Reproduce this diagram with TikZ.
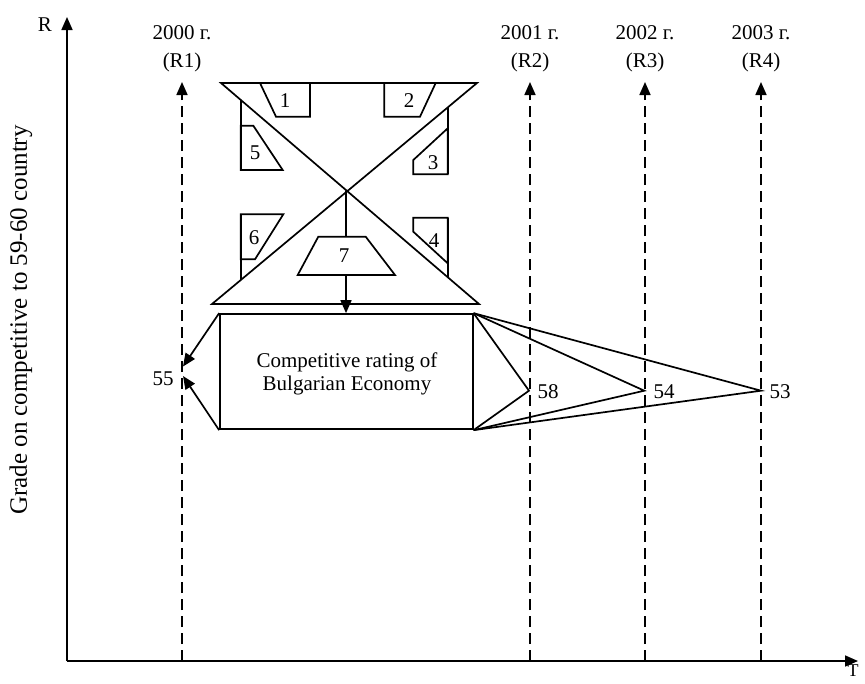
\documentclass[tikz,border=0pt]{standalone}
\usepackage{fontspec}
\setmainfont{Liberation Serif}
\usetikzlibrary{arrows.meta}
\begin{document}
\begin{tikzpicture}[x=1pt,y=-1pt,
  line/.style={line width=1.7pt, line join=miter},
  tip/.style={-{Triangle[length=13pt,width=11pt]}},
  dashv/.style={line width=1.7pt, dash pattern=on 11pt off 6pt},
  lbl/.style={font=\fontsize{21}{23}\selectfont, inner sep=0pt},
  yearlbl/.style={font=\fontsize{21}{28}\selectfont, inner sep=0pt, align=center},
  ]
\useasboundingbox (0,0) rectangle (865,683);

% axes
\coordinate (O) at (67,661);
\coordinate (Ry) at (67,17);
\coordinate (Tx) at (858,661);
\draw[line, tip] (O) -- (Ry);
\draw[line, tip] (O) -- (Tx);
\node[lbl] (R) at (45,25) {R};
\node[lbl, font=\fontsize{18}{20}\selectfont, anchor=north] (T) at (853,665) {T};
\node[lbl, rotate=90, font=\fontsize{25}{27}\selectfont] (ylab) at (21,320) {Grade on competitive to 59-60 country};

% dashed year lines
\foreach \n/\x in {1/182,2/530,3/645,4/761}{
  \coordinate (b\n) at (\x,661);
  \coordinate (t\n) at (\x,82);
  \draw[dashv, tip] (b\n) -- (t\n);
}
\node[yearlbl] (y1) at (182,49) {2000 г.\\(R1)};
\node[yearlbl] (y2) at (530,49) {2001 г.\\(R2)};
\node[yearlbl] (y3) at (645,49) {2002 г.\\(R3)};
\node[yearlbl] (y4) at (761,49) {2003 г.\\(R4)};

% hourglass
\coordinate (TL) at (221,83);
\coordinate (TR) at (477,83);
\coordinate (BL) at (212,304);
\coordinate (BR) at (479,304);
\coordinate (X) at (346,191);
\draw[line] (TL) -- (TR) -- (BL) -- (BR) -- cycle;

% shape 1
\draw[line] (260,83) -- (310,83) -- (310,116.7) -- (276,116.7) -- cycle;
\node[lbl] (s1) at (285,101) {1};
% shape 2
\draw[line] (384.3,83) -- (435.7,83) -- (420,116.7) -- (384.3,116.7) -- cycle;
\node[lbl] (s2) at (409,101) {2};
% left upper bar and shape 5
\coordinate (lu) at (240.7,99.9);
\coordinate (ld) at (240.7,170);
\draw[line] (lu) -- (ld);
\draw[line] (240.7,125.7) -- (253.3,125.7) -- (282.7,170) -- (240.7,170) -- cycle;
\node[lbl] (s5) at (255,153) {5};
% right upper bar and shape 3
\coordinate (ru) at (447.7,107.4);
\coordinate (rd) at (447.7,174.3);
\draw[line] (ru) -- (rd);
\draw[line] (447.7,128.3) -- (413.3,160) -- (413.3,174.3) -- (447.7,174.3) -- cycle;
\node[lbl] (s3) at (433,163) {3};
% shape 6 and left lower bar
\coordinate (l6u) at (240.7,214.3);
\coordinate (l6d) at (240.7,280.1);
\draw[line] (l6u) -- (l6d);
\draw[line] (240.7,214.3) -- (283.3,214.3) -- (255,259.3) -- (240.7,259.3) -- cycle;
\node[lbl] (s6) at (254,238) {6};
% shape 4 and right lower bar
\coordinate (r4u) at (447.7,217.7);
\coordinate (r4d) at (447.7,277.3);
\draw[line] (r4u) -- (r4d);
\draw[line] (413.3,217.7) -- (447.7,217.7) -- (447.7,263.3) -- (413.3,231.7) -- cycle;
\node[lbl] (s4) at (434,241) {4};
% shape 7
\coordinate (s7t) at (346,236.7);
\coordinate (s7b) at (346,275);
\draw[line] (318.3,236.7) -- (365.7,236.7) -- (395,275) -- (297.7,275) -- cycle;
\node[lbl] (s7) at (344,256) {7};
\draw[line] (X) -- (s7t);

% box
\node[draw, line, minimum width=252.7pt, minimum height=115.3pt, inner sep=0pt] (box) at (346.35,371.65) {};
\node[align=center, font=\fontsize{21}{23}\selectfont, inner sep=0pt] (boxtext) at (347,373.5)
      {Competitive rating of\\Bulgarian Economy};
\draw[line, tip] (s7b) -- (box.north -| s7b);

% arrows to 55
\coordinate (a55u) at (183,366.5);
\coordinate (a55d) at (183,376);
\draw[line, tip] (box.north west) -- (a55u);
\draw[line, tip] (box.south west) -- (a55d);
\node[lbl] (n55) at (163,379) {55};

% rays to 58, 54, 53
\coordinate (p58) at (529,390.7);
\coordinate (p54) at (644.3,390.7);
\coordinate (p53) at (761,390.7);
\draw[line] (box.north east) -- (p58) -- (box.south east);
\draw[line] (box.north east) -- (p54) -- (box.south east);
\draw[line] (box.north east) -- (p53) -- (box.south east);
\node[lbl] (n58) at (548,392) {58};
\node[lbl] (n54) at (664,392) {54};
\node[lbl] (n53) at (780,392) {53};
\end{tikzpicture}
\end{document}
